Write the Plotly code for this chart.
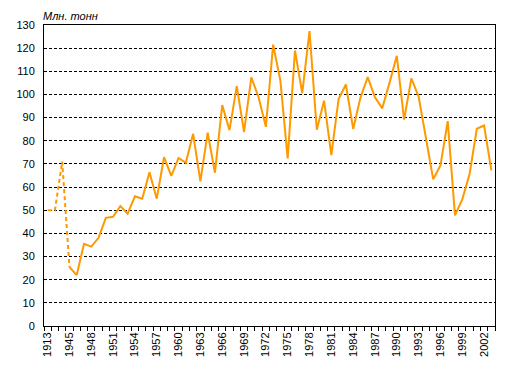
import plotly.graph_objects as go

# Categories (years); the two pre-war points between 1913 and 1945 are unlabeled on the axis
years = ["1913", "1928", "1937", "1945", "1946", "1947", "1948", "1949", "1950",
         "1951", "1952", "1953", "1954", "1955", "1956", "1957", "1958", "1959", "1960",
         "1961", "1962", "1963", "1964", "1965", "1966", "1967", "1968", "1969", "1970",
         "1971", "1972", "1973", "1974", "1975", "1976", "1977", "1978", "1979", "1980",
         "1981", "1982", "1983", "1984", "1985", "1986", "1987", "1988", "1989", "1990",
         "1991", "1992", "1993", "1994", "1995", "1996", "1997", "1998", "1999", "2000",
         "2001", "2002", "2003"]

# Early (dashed) series: 1913 .. 1945
early_values = [50.0, 50.0, 71.0, 25.5]

# Post-war (solid) series: 1945 .. 2003
postwar_values = [25.5, 22.0, 35.5, 34.3, 38.1, 46.7, 47.2, 51.8, 48.5, 56.0,
                  55.0, 66.4, 55.0, 72.9, 64.8, 72.6, 70.5, 83.0, 62.5, 83.5,
                  66.2, 95.4, 84.6, 103.6, 83.8, 107.4, 98.8, 86.0, 121.5, 105.9,
                  72.4, 119.0, 100.6, 127.4, 84.8, 97.3, 73.8, 98.0, 104.3, 85.1,
                  98.6, 107.5, 98.8, 94.0, 105.0, 116.7, 89.1, 106.9, 99.1, 81.3,
                  63.4, 69.3, 88.5, 47.8, 54.7, 65.5, 85.2, 86.6, 67.2]

y_title = "Млн. тонн"
y_ticks = list(range(0, 131, 10))

n_early = len(early_values)
idx = list(range(len(years)))
early_x = idx[:n_early]
post_x = idx[n_early - 1:n_early - 1 + len(postwar_values)]

label_idx = idx[0::3]
label_text = [years[i] for i in label_idx]

color = "#FF9900"
font_family = "Liberation Sans, Arial, sans-serif"

# page body has an 8px default margin; plot area should sit at page px [43.5, 495] x [24.5, 326.5]
body_off = 8
plot_w = 451.5
plot_h = 302
m_l = 43.5 - body_off
m_t = 24.5 - body_off
m_r = 510 - m_l - plot_w
m_b = 375 - m_t - plot_h

fig = go.Figure()
fig.add_trace(go.Scatter(x=early_x, y=early_values, mode="lines",
                         line=dict(color=color, width=2, dash="4px,3px"),
                         hoverinfo="skip", showlegend=False))
fig.add_trace(go.Scatter(x=post_x, y=postwar_values, mode="lines",
                         line=dict(color=color, width=2),
                         hoverinfo="skip", showlegend=False))

fig.update_layout(
    template="none",
    width=510, height=375, autosize=False,
    margin=dict(l=m_l, r=m_r, t=m_t, b=m_b, pad=0, autoexpand=False),
    paper_bgcolor="white", plot_bgcolor="white",
    font=dict(family=font_family, size=11, color="#000"),
    showlegend=False,
    xaxis=dict(
        range=[-0.5, len(years) - 0.5], automargin=False,
        tickmode="array", tickvals=label_idx, ticktext=label_text,
        tickangle=-90, ticks="", showgrid=False, zeroline=False,
        showline=True, linecolor="#000", linewidth=1, mirror=True,
        ticklabelstandoff=1,
        minor=dict(tick0=-0.5, dtick=1, ticks="outside", ticklen=4,
                   tickcolor="#000", tickwidth=1, showgrid=False),
        tickfont=dict(family=font_family, size=11, color="#000"),
    ),
    yaxis=dict(
        range=[0, 130], tickmode="array", tickvals=y_ticks, automargin=False,
        ticks="", showgrid=True, gridcolor="#000", gridwidth=1, griddash="3px,2px",
        zeroline=False, showline=True, linecolor="#000", linewidth=1, mirror=True,
        ticklabelstandoff=6,
        tickfont=dict(family=font_family, size=11, color="#000"),
    ),
    annotations=[dict(
        text="<i>" + y_title + "</i>", xref="paper", yref="paper",
        x=26.5 / plot_w, y=1, xanchor="center", yanchor="middle",
        yshift=9.5, showarrow=False,
        font=dict(family=font_family, size=11, color="#000"),
    )],
)

fig.write_html("out.html")
